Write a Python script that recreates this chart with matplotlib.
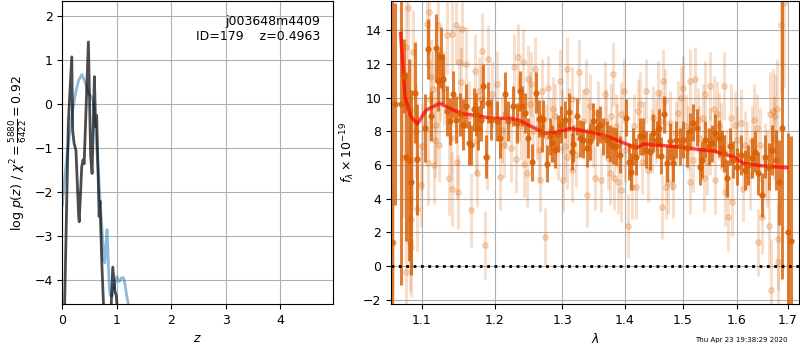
import numpy as np
import matplotlib
matplotlib.use('Agg')
import matplotlib.pyplot as plt
from matplotlib.ticker import NullLocator

plt.rcParams['font.size'] = 9

# --- p(z) panel ---
z_prior = [0.0, 0.05, 0.10, 0.15, 0.20, 0.25, 0.30, 0.36, 0.42, 0.48, 0.53, 0.57, 0.60, 0.63,
           0.67, 0.70, 0.73, 0.76, 0.78, 0.80, 0.82, 0.84, 0.86, 0.88, 0.92, 0.96, 1.00, 1.02,
           1.05, 1.08, 1.12, 1.15, 1.18, 1.22]
logpz_prior = [-2.3, -1.6, -1.0, -0.5, -0.05, 0.3, 0.55, 0.68, 0.5, 0.25, 0.18, 0.05, -0.4, -1.0,
               -1.7, -2.3, -2.9, -3.5, -3.6, -3.2, -2.85, -3.5, -4.1, -4.35, -4.35, -4.1, -3.92, -4.0,
               -4.03, -3.95, -3.94, -4.1, -4.35, -4.6]

z_fit = [0.04, 0.11, 0.173, 0.19, 0.215, 0.25, 0.30, 0.31, 0.356, 0.38, 0.40, 0.43, 0.478, 0.52,
         0.546, 0.588, 0.61, 0.63, 0.675, 0.69, 0.724, 0.76, 0.80, 0.86, 0.895, 0.925, 0.965,
         0.99, 1.01]
logpz_fit = [-4.7, -0.43, 1.08, -0.6, -0.88, -1.05, -2.55, -2.67, -1.42, -1.26, -1.35, -0.3, 1.42, -1.19,
             -1.57, 0.63, -0.5, -0.25, -2.55, -2.2, -3.6, -4.7, -6.0, -6.0, -4.6, -3.7, -4.25,
             -4.35, -4.7]

# --- spectrum panel ---
dark_wave = [1.0620, 1.0653, 1.0737, 1.0771, 1.0800, 1.0835, 1.0864, 1.0908, 1.0942, 1.1046,
             1.1084, 1.1124, 1.1194, 1.1216, 1.1260, 1.1283, 1.1341, 1.1374, 1.1419, 1.1464,
             1.1510, 1.1556, 1.1593, 1.1634, 1.1670, 1.1707, 1.1739, 1.1763, 1.1801, 1.1833,
             1.1871, 1.1904, 1.1950, 1.2028, 1.2075, 1.2148, 1.2195, 1.2268, 1.2318, 1.2366,
             1.2391, 1.2440, 1.2489, 1.2549, 1.2600, 1.2639, 1.2690, 1.2714, 1.2765, 1.2815,
             1.2841, 1.2892, 1.2933, 1.2980, 1.3046, 1.3098, 1.3151, 1.3176, 1.3229, 1.3281,
             1.3333, 1.3387, 1.3440, 1.3493, 1.3548, 1.3596, 1.3650, 1.3704, 1.3758, 1.3813,
             1.3867, 1.3923, 1.4017, 1.4073, 1.4107, 1.4146, 1.4201, 1.4258, 1.4314, 1.4371,
             1.4429, 1.4486, 1.4543, 1.4584, 1.4629, 1.4676, 1.4728, 1.4776, 1.4834, 1.4892,
             1.4953, 1.5012, 1.5072, 1.5132, 1.5192, 1.5252, 1.5313, 1.5349, 1.5410, 1.5471,
             1.5533, 1.5594, 1.5656, 1.5718, 1.5762, 1.5824, 1.5874, 1.5937, 1.6013, 1.6077,
             1.6160, 1.6224, 1.6290, 1.6354, 1.6418, 1.6485, 1.6550, 1.6615, 1.6682, 1.6767,
             1.6833, 1.6882, 1.6995, 1.7064]
dark_flux = [1.4, 9.64, 9.64, 11.3, 6.5, 6.3, 4.96, 10.3, 6.35, 8.2,
             12.9, 8.9, 12.95, 11.0, 12.4, 11.1, 9.2, 8.6, 10.2, 8.7,
             9.0, 8.4, 9.5, 7.3, 7.2, 9.3, 9.0, 8.2, 8.65, 10.7,
             6.5, 9.7, 8.7, 8.6, 7.6, 10.2, 8.6, 9.5, 8.5, 10.4,
             9.5, 9.1, 7.6, 6.15, 10.3, 8.75, 7.9, 8.75, 6.07, 7.7,
             7.3, 6.9, 7.86, 8.4, 8.7, 9.15, 6.8, 7.26, 8.9, 7.6,
             7.5, 7.0, 7.4, 8.6, 8.2, 8.4, 7.7, 7.5, 7.3, 7.14,
             7.1, 6.6, 8.8, 6.2, 5.6, 7.1, 6.5, 7.7, 7.7, 6.9,
             6.8, 7.9, 7.5, 8.2, 6.55, 9.0, 6.1, 7.4, 6.1, 7.5,
             7.1, 7.5, 7.0, 8.0, 8.5, 8.2, 5.9, 6.3, 7.5, 7.1,
             7.3, 7.9, 7.6, 7.0, 6.7, 5.2, 7.1, 6.3, 5.9, 6.6,
             5.7, 6.0, 6.4, 6.8, 5.5, 4.2, 6.5, 5.9, 6.9, 6.3,
             4.96, 8.2, 2.0, 1.5]
dark_err = [18.0, 6.0, 10.8, 2.2, 5.0, 6.0, 5.5, 3.0, 3.3, 2.0,
            1.8, 1.5, 2.0, 1.8, 1.8, 1.5, 1.5, 1.4, 1.4, 1.4,
            1.3, 1.5, 1.3, 1.3, 1.2, 1.3, 1.3, 1.3, 1.2, 1.3,
            1.3, 1.2, 1.2, 1.2, 1.2, 1.3, 1.2, 1.2, 1.2, 1.2,
            1.2, 1.2, 1.2, 1.1, 1.2, 1.1, 1.1, 1.1, 1.1, 1.1,
            1.1, 1.1, 1.1, 1.1, 1.1, 1.1, 1.1, 1.1, 1.1, 1.1,
            1.1, 1.1, 1.1, 1.1, 1.1, 1.1, 1.1, 1.1, 1.1, 1.1,
            1.1, 1.1, 1.1, 1.1, 1.1, 1.1, 1.1, 1.1, 1.1, 1.1,
            1.1, 1.1, 1.1, 1.1, 1.1, 1.1, 1.1, 1.1, 1.1, 1.1,
            1.1, 1.1, 1.1, 1.1, 1.1, 1.1, 1.1, 1.1, 1.1, 1.1,
            1.1, 1.1, 1.1, 1.1, 1.1, 1.1, 1.1, 1.1, 1.1, 1.2,
            1.2, 1.2, 1.2, 1.2, 1.3, 1.3, 1.3, 1.4, 1.5, 1.8,
            2.5, 9.0, 5.9, 6.2]

light_wave = [1.0631, 1.0758, 1.0790, 1.0800, 1.0822, 1.0844, 1.0850, 1.0857, 1.0864, 1.0870,
              1.0886, 1.0942, 1.0995, 1.1073, 1.1080, 1.1091, 1.1126, 1.1148, 1.1161, 1.1170,
              1.1216, 1.1230, 1.1238, 1.1341, 1.1359, 1.1405, 1.1410, 1.1464, 1.1470, 1.1480,
              1.1496, 1.1541, 1.1600, 1.1661, 1.1716, 1.1752, 1.1772, 1.1810, 1.1823, 1.1857,
              1.1890, 1.1900,
              1.2028, 1.2075, 1.2138, 1.2150, 1.2283, 1.2303, 1.2332, 1.2380, 1.2415, 1.2430,
              1.2465, 1.2489, 1.2514, 1.2560, 1.2589, 1.2614, 1.2664, 1.2690, 1.2740, 1.2750,
              1.2790, 1.2830, 1.2892, 1.2969, 1.3000, 1.3020, 1.3046, 1.3072, 1.3080, 1.3151,
              1.3160, 1.3270, 1.3320, 1.3371, 1.3397, 1.3440, 1.3490, 1.3520,
              1.3612, 1.3676, 1.3700, 1.3758, 1.3774, 1.3813, 1.3820, 1.3880, 1.3895, 1.3940,
              1.3950, 1.3995, 1.4050, 1.4117, 1.4160, 1.4185, 1.4258, 1.4330, 1.4371, 1.4400,
              1.4486, 1.4530, 1.4572, 1.4641, 1.4658, 1.4690, 1.4716, 1.4750, 1.4776, 1.4834,
              1.4880, 1.4981, 1.5012, 1.5060, 1.5132, 1.5140, 1.5223, 1.5300,
              1.5378, 1.5390, 1.5410, 1.5500, 1.5501, 1.5563, 1.5594, 1.5656, 1.5700, 1.5762,
              1.5781, 1.5843, 1.5887, 1.5906, 1.6000, 1.6077, 1.6127, 1.6200, 1.6290, 1.6387,
              1.6399, 1.6485, 1.6550, 1.6634, 1.6648, 1.6668, 1.6701, 1.6750, 1.6793, 1.6800,
              1.6813, 1.6867, 1.6914,
              # crowded points around the continuum
              1.0920, 1.1000, 1.1110, 1.1190, 1.1290, 1.1390, 1.1530, 1.1640, 1.1740, 1.1960,
              1.2100, 1.2230, 1.2350, 1.2520, 1.2640, 1.2860, 1.2930, 1.3110, 1.3210, 1.3420,
              1.3560, 1.3730, 1.3860, 1.4000, 1.4220, 1.4300, 1.4460, 1.4600, 1.4820, 1.4920,
              1.5100, 1.5180, 1.5280, 1.5440, 1.5620, 1.5800, 1.5960, 1.6150, 1.6250, 1.6330,
              1.6440, 1.6590, 1.6720]
light_flux = [1.35, 6.4, 13.0, -0.35, 15.3, 9.3, 1.45, 1.15, 2.8, 6.3,
              12.7, 3.4, 4.8, 14.4, 6.1, 15.1, 11.2, 10.5, 6.0, 7.5,
              14.3, 7.2, 10.8, 13.7, 5.2, 13.8, 4.6, 14.3, 6.2, 4.4,
              12.1, 14.1, 12.0, 3.3, 11.6, 5.5, 10.4, 9.9, 12.8, 1.25,
              6.5, 12.3,
              10.8, 5.3, 7.2, 9.0, 11.8, 6.35, 12.4, 8.3, 12.1, 6.07,
              5.5, 11.1, 9.6, 8.0, 11.7, 8.2, 5.1, 10.4, 1.75, 7.7,
              10.6, 8.1, 8.9, 11.0, 8.6, 5.1, 7.1, 11.7, 6.5, 9.9,
              5.7, 11.5, 8.6, 10.4, 4.2, 9.5, 7.8, 5.2,
              5.1, 10.2, 8.6, 5.5, 8.9, 11.4, 5.2, 7.8, 5.0, 4.5,
              9.0, 10.4, 2.4, 4.7, 8.3, 4.7, 9.6, 7.9, 10.4, 5.7,
              8.8, 8.0, 10.3, 3.5, 11.0, 9.8, 4.7, 5.0, 8.5, 4.76,
              7.9, 10.0, 10.6, 8.3, 11.0, 5.0, 11.1, 7.6,
              8.8, 5.2, 10.2, 7.4, 10.7, 9.3, 5.1, 8.3, 7.7, 10.7,
              4.4, 2.9, 8.8, 3.8, 7.5, 8.5, 4.6, 6.6, 7.5, 8.2,
              1.4, 2.9, 6.3, 2.4, 9.0, -1.4, 9.2, 8.9, 9.3, 1.6,
              0.25, 14.3, 15.6,
              8.0, 7.1, 9.9, 8.4, 10.6, 7.6, 10.9, 8.9, 7.4, 10.2,
              8.1, 7.0, 9.4, 10.8, 6.9, 9.3, 7.0, 8.7, 6.6, 8.1,
              9.1, 6.4, 8.3, 6.9, 9.2, 6.2, 7.4, 8.6, 6.4, 9.1,
              7.6, 6.3, 8.7, 6.2, 9.0, 6.1, 8.4, 7.2, 5.4, 8.7,
              7.2, 5.8, 7.6]
light_err = [3.5, 3.5, 3.0, 3.0, 3.0, 3.0, 3.0, 3.0, 3.0, 3.0,
             2.5, 2.5, 2.5, 2.5, 2.5, 2.5, 2.3, 2.3, 2.3, 2.3,
             2.5, 2.2, 2.2, 2.3, 2.2, 2.3, 2.2, 2.3, 2.2, 2.2,
             2.2, 2.2, 2.2, 2.2, 2.2, 2.0, 2.0, 2.0, 2.2, 2.0,
             2.0, 2.0,
             2.0, 2.0, 2.0, 2.0, 2.0, 2.0, 2.0, 2.0, 2.0, 2.0,
             2.0, 2.0, 1.9, 1.9, 1.9, 1.9, 1.9, 1.9, 1.7, 1.9,
             1.9, 1.9, 1.9, 1.9, 1.9, 1.9, 1.9, 1.9, 1.9, 1.9,
             1.9, 1.9, 1.9, 1.9, 1.9, 1.9, 1.9, 1.9,
             1.9, 1.9, 1.9, 1.9, 1.9, 1.9, 1.9, 1.9, 1.9, 1.9,
             1.9, 1.9, 1.9, 1.9, 1.9, 1.9, 1.9, 1.9, 1.9, 1.9,
             1.9, 1.9, 1.9, 1.9, 1.9, 1.9, 1.9, 1.9, 1.9, 1.9,
             1.9, 1.9, 1.9, 1.9, 1.9, 1.9, 1.9, 1.9,
             2.0, 2.0, 2.0, 2.0, 2.0, 2.0, 2.0, 2.0, 2.0, 2.0,
             2.0, 2.0, 2.0, 2.0, 2.0, 2.0, 2.0, 2.0, 2.0, 2.0,
             2.0, 2.2, 2.2, 2.5, 2.5, 3.0, 2.5, 2.5, 3.0, 3.0,
             3.5, 4.0, 5.0,
             2.8, 2.6, 2.4, 2.3, 2.2, 2.2, 2.1, 2.1, 2.0, 2.0,
             2.0, 2.0, 2.0, 1.9, 1.9, 1.9, 1.9, 1.9, 1.9, 1.9,
             1.9, 1.9, 1.9, 1.9, 1.9, 1.9, 1.9, 1.9, 1.9, 1.9,
             1.9, 1.9, 1.9, 2.0, 2.0, 2.0, 2.0, 2.0, 2.1, 2.1,
             2.2, 2.3, 2.5]

model_wave = [1.0728, 1.0784, 1.0860, 1.0943, 1.1057, 1.1240, 1.1421, 1.1558, 1.1744, 1.1933,
              1.2218, 1.2363, 1.2560, 1.2740, 1.2913, 1.3121, 1.3333, 1.3653, 1.3873, 1.4093,
              1.4207, 1.4320, 1.4667, 1.5018, 1.5259, 1.5560, 1.5936, 1.6125, 1.6451, 1.6980]
model_flux = [13.8, 10.05, 8.87, 8.43, 9.26, 9.66, 9.26, 9.03, 8.95, 8.77,
              8.77, 8.63, 8.23, 7.88, 7.94, 8.17, 8.03, 7.78, 7.48, 7.15,
              7.03, 7.24, 7.15, 7.05, 6.93, 6.83, 6.49, 6.10, 5.96, 5.84]

lam_ticks = [1.1, 1.2, 1.3, 1.4, 1.5, 1.6, 1.7]
spec_color = '#d95f02'

fig = plt.figure(figsize=(8, 3.5), dpi=100)
ax1 = fig.add_axes([0.0779, 0.1314, 0.3388, 0.8657])
ax2 = fig.add_axes([0.4888, 0.1314, 0.5104, 0.8657])

# left: redshift probability
ax1.plot(z_prior, logpz_prior, color='tab:blue', alpha=0.5, lw=2)
ax1.plot(z_fit, logpz_fit, color='k', alpha=0.7, lw=2)
ax1.set_xlim(0, 4.97)
ax1.set_ylim(-4.54, 2.35)
ax1.set_xticks([0, 1, 2, 3, 4])
ax1.set_xlabel('$z$')
ax1.set_ylabel(r'log $p(z)$ / $\chi^2=\frac{5880}{6422}=0.92$')
ax1.text(0.95, 0.955, 'j003648m4409\nID=179    z=0.4963', transform=ax1.transAxes,
         ha='right', va='top', fontsize=9)
ax1.grid()

# right: spectrum
ax2.errorbar(light_wave, light_flux, yerr=light_err, marker='o', ms=4, linestyle='None',
             color=spec_color, alpha=0.2, elinewidth=2.2)
ax2.errorbar(dark_wave, dark_flux, yerr=dark_err, marker='o', ms=3.5, linestyle='None',
             color=spec_color, alpha=0.8, elinewidth=2.2)
ax2.plot(model_wave, model_flux, color='r', alpha=0.7, lw=2.5)
ax2.axhline(0, color='k', linestyle=':', lw=2)
ax2.set_xscale('log')
ax2.set_xlim(1.0606, 1.7236)
ax2.set_ylim(-2.26, 15.74)
ax2.set_xticks(lam_ticks)
ax2.set_xticklabels([str(t) for t in lam_ticks])
ax2.xaxis.set_minor_locator(NullLocator())
ax2.set_yticks([-2, 0, 2, 4, 6, 8, 10, 12, 14])
ax2.set_xlabel(r'$\lambda$')
ax2.set_ylabel(r'$f_\lambda \times 10^{-19}$')
ax2.grid()

fig.text(0.984, 0.028, 'Thu Apr 23 19:38:29 2020', ha='right', va='center', fontsize=5)

fig.savefig('out.png', dpi=100)
